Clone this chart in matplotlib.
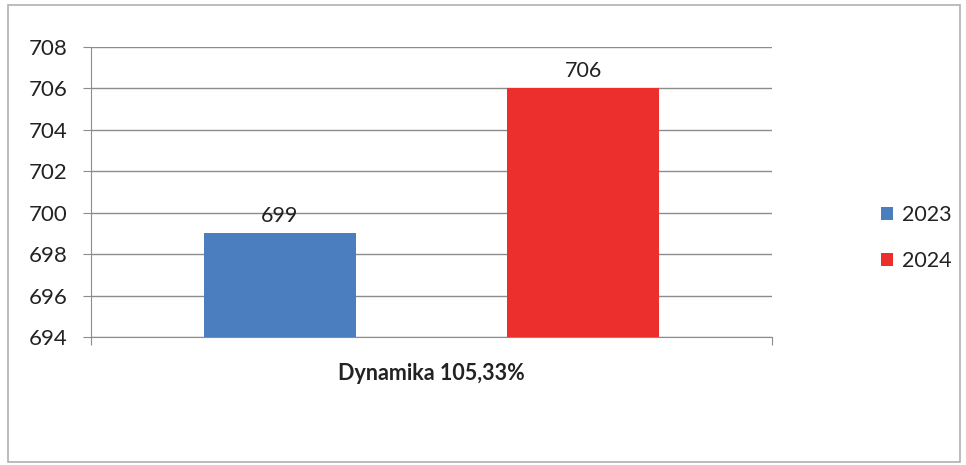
import matplotlib
matplotlib.use("Agg")
import numpy as np
from matplotlib import pyplot as plt
from matplotlib.patches import Rectangle

plt.rcParams["font.family"] = ["Lato", "DejaVu Sans"]

# ------ data
category = "Dynamika 105,33%"
series = ["2023", "2024"]
values = [699, 706]
colors = ["#4a7ebf", "#ec2f2c"]
yticks = [694, 696, 698, 700, 702, 704, 706, 708]

# ------
fig = plt.figure(figsize=(9.66, 4.65), dpi=100)
fig.patches.append(Rectangle((0.008, 0.007), 0.986, 0.982, transform=fig.transFigure,
                             fill=False, ec="#b0b0b0", lw=1.2))

ax = fig.add_axes([0.0942, 0.2753, 0.705, 0.6237])
offsets = [-0.2225, 0.2225]
for name, val, col, off in zip(series, values, colors, offsets):
    ax.bar(off, val, width=0.223, color=col, label=name, zorder=3)
    ax.text(off, val + 0.35, str(val), ha="center", va="bottom", fontsize=15.5, color="#222222")

ax.set_xlim(-0.5, 0.5)
ax.set_ylim(yticks[0], yticks[-1])
ax.set_yticks(yticks)
ax.tick_params(axis="y", labelsize=16, length=6, color="#8c8c8c", labelcolor="#222222", pad=11)
ax.set_xticks([-0.5, 0.5])
ax.set_xticklabels(["", ""])
ax.tick_params(axis="x", length=6, color="#8c8c8c")
ax.grid(axis="y", color="#8c8c8c", lw=1, zorder=0)
for s in ["top", "right"]:
    ax.spines[s].set_visible(False)
for s in ["left", "bottom"]:
    ax.spines[s].set_color("#8c8c8c")
ax.set_xlabel(category, fontsize=15.5, fontweight="bold", color="#222222", labelpad=9)

leg = fig.legend(loc="upper left", bbox_to_anchor=(0.8916, 0.601), frameon=False,
                 fontsize=15.5, handlelength=0.55, handleheight=0.55, handletextpad=0.45,
                 labelspacing=1.2, labelcolor="#222222")

plt.savefig("out.png", dpi=100)
